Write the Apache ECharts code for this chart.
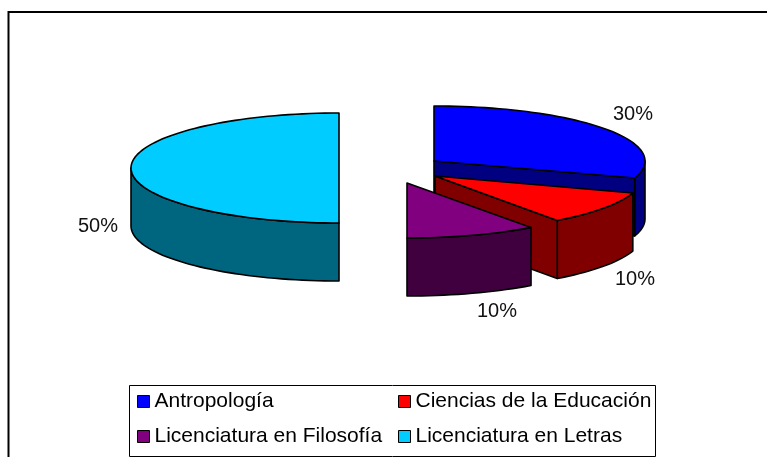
<!DOCTYPE html>
<html><head><meta charset="utf-8">
<style>html,body{margin:0;padding:0;background:#fff;overflow:hidden}#c{width:767px;height:457px}</style>
<script src="https://cdn.jsdelivr.net/npm/echarts@6/dist/echarts.min.js"></script>
</head><body><div id="c"></div>
<script>
const categories = ['Antropología','Ciencias de la Educación','Licenciatura en Filosofía','Licenciatura en Letras'];
const values = [30,10,10,50];
const topColors = ['#0000FF','#FF0000','#800080','#00CCFF'];
const sideColors = ['#000080','#800000','#400040','#006680'];
// exploded centre of each slice, its ellipse radius, and its percent label anchor
const centres = [[434,161],[435,176],[407,183],[339,168]];
const radii = [211,208,211,208];
const labelAt = [[633,114],[635,279],[497,311],[98,226]];
const RY = 55, DEPTH = 58;
const FONT = '"Liberation Sans", Arial, sans-serif';
const total = values.reduce((a,b)=>a+b,0);

function pt(c,rx,a,dy){const r=a*Math.PI/180;return [c[0]+rx*Math.sin(r),c[1]-RY*Math.cos(r)+(dy||0)];}
function arc(c,rx,a0,a1,dy){const n=Math.max(2,Math.ceil(Math.abs(a1-a0)/2)),o=[];for(let i=0;i<=n;i++)o.push(pt(c,rx,a0+(a1-a0)*i/n,dy));return o;}
function poly(points,fill){return {type:'polygon',shape:{points:points},style:{fill:fill,stroke:'#000',lineWidth:1.6,lineJoin:'round'}};}

function makeSeries(i){
  let start=0;for(let k=0;k<i;k++)start+=values[k]/total*360;
  const end=start+values[i]/total*360;
  return {
    type:'custom',name:categories[i],coordinateSystem:'none',silent:true,z:2+[1,2,3,0][i],
    itemStyle:{color:topColors[i]},
    data:[[values[i]]],
    renderItem:function(params,api){
      const c=centres[i],rx=radii[i],ch=[];
      const s0=Math.max(start,90),s1=Math.min(end,270);
      if(s1>s0){const up=arc(c,rx,s0,s1,0),dn=arc(c,rx,s1,s0,DEPTH);ch.push(poly(up.concat(dn),sideColors[i]));}
      if(start>180&&start<360){const p=pt(c,rx,start);ch.push(poly([c,p,[p[0],p[1]+DEPTH],[c[0],c[1]+DEPTH]],sideColors[i]));}
      if(end>0&&end<180){const p=pt(c,rx,end);ch.push(poly([c,p,[p[0],p[1]+DEPTH],[c[0],c[1]+DEPTH]],sideColors[i]));}
      ch.push(poly([c].concat(arc(c,rx,start,end,0)),topColors[i]));
      ch.push({type:'text',style:{x:labelAt[i][0],y:labelAt[i][1],text:api.value(0)+'%',fill:'#111',font:'20px '+FONT,textAlign:'center',textVerticalAlign:'middle'}});
      return {type:'group',children:ch};
    }
  };
}
const legendBase={orient:'vertical',icon:'rect',itemWidth:12,itemHeight:12,itemGap:14,selectedMode:false,
  itemStyle:{borderColor:'#000',borderWidth:1},
  textStyle:{fontFamily:FONT,fontSize:21,color:'#000',padding:[0,0,0,0],lineHeight:20}};
const chart=echarts.init(document.getElementById('c'),null,{renderer:'canvas'});
chart.setOption({
  animation:false,backgroundColor:'#fff',
  legend:[
    Object.assign({},legendBase,{left:132,top:386,data:[categories[0],categories[2]]}),
    Object.assign({},legendBase,{left:393,top:386,data:[categories[1],categories[3]]})
  ],
  graphic:[
    {type:'rect',z:-10,silent:true,shape:{x:8.5,y:12,width:800,height:500},style:{fill:'#fff',stroke:'#000',lineWidth:2}},
    {type:'rect',z:1,silent:true,shape:{x:129.5,y:385.5,width:526,height:71},style:{fill:'#fff',stroke:'#000',lineWidth:1}}
  ],
  series:[0,1,2,3].map(makeSeries)
});
</script></body></html>
